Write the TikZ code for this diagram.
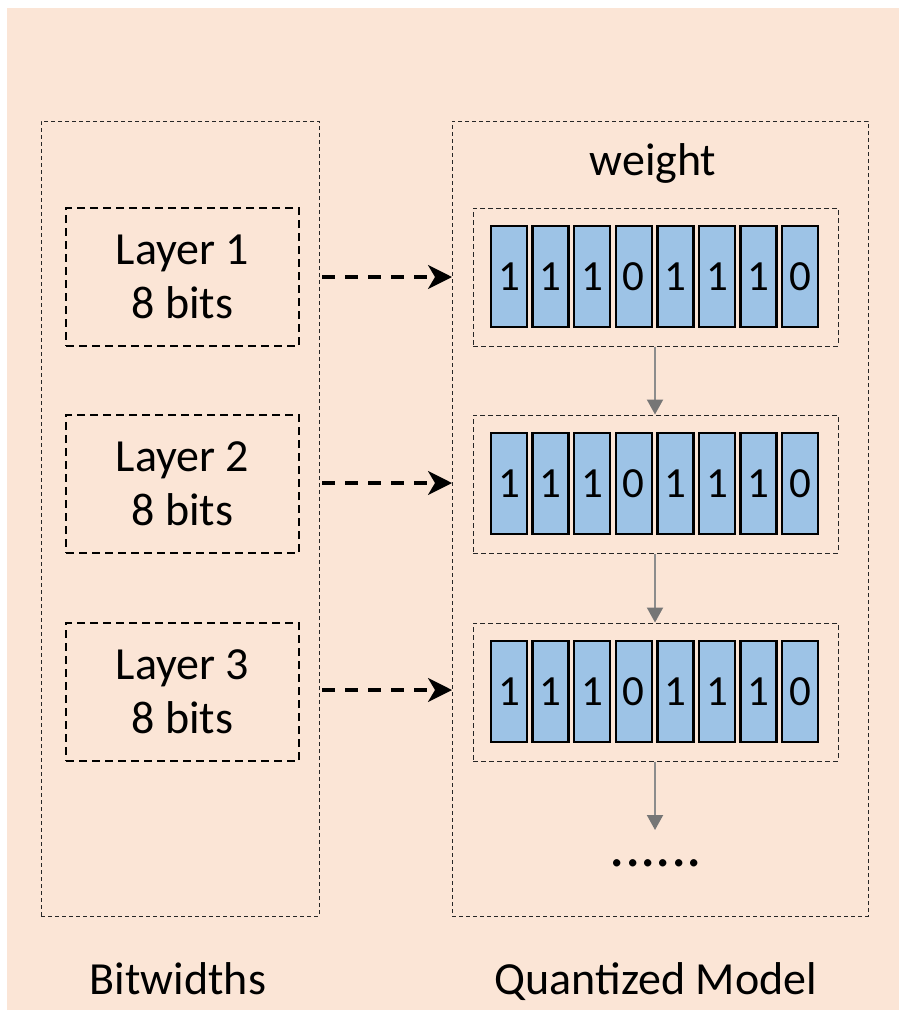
\documentclass[tikz,border=0pt]{standalone}
\usepackage{fontspec}
\setmainfont{Carlito}
\usetikzlibrary{arrows.meta}
\definecolor{bg}{HTML}{FBE5D6}
\definecolor{cellblue}{HTML}{9DC3E6}
\definecolor{garrow}{HTML}{8C8C8C}
\definecolor{ghead}{HTML}{767676}
\tikzset{
  outerbox/.style={draw=black!85, line width=1pt, dash pattern=on 4pt off 3pt, inner sep=0pt},
  layerbox/.style={draw=black, line width=2pt, dash pattern=on 8pt off 5pt, inner sep=0pt,
    minimum width=233pt, minimum height=138pt, align=center, font=\fontsize{46}{54}\selectfont},
  weightbox/.style={draw=black!85, line width=1pt, dash pattern=on 5pt off 3pt, inner sep=0pt,
    minimum width=365pt, minimum height=138pt},
  bitcell/.style={draw=black, fill=cellblue, line width=2.5pt, inner sep=0pt,
    minimum width=36pt, minimum height=101pt, font=\fontsize{43}{48}\selectfont},
  maplink/.style={line width=3.2pt, dash pattern=on 13pt off 10pt, -{Stealth[length=24pt,width=24pt,inset=7pt]}},
  flowlink/.style={draw=garrow, line width=2pt, -{Triangle[length=15pt,width=16pt,fill=ghead,color=ghead]}},
  caption/.style={font=\fontsize{46}{54}\selectfont, anchor=base, inner sep=0pt}
}
\begin{document}
\begin{tikzpicture}[x=1pt,y=-1pt]
\fill[bg] (7,8) rectangle (899,1010);
\useasboundingbox (0,0) rectangle (899,1015);
% outer boxes
\node[outerbox, minimum width=278pt, minimum height=795pt] (LB) at (180,518.5) {};
\node[outerbox, minimum width=416pt, minimum height=795pt] (RB) at (660,518.5) {};
% layer boxes
\node[layerbox] (L1) at (182.5,277) {Layer 1\\8 bits};
\node[layerbox] (L2) at (182.5,484) {Layer 2\\8 bits};
\node[layerbox] (L3) at (182.5,692) {Layer 3\\8 bits};
% weight boxes
\node[weightbox] (W1) at (655.5,277) {};
\node[weightbox] (W2) at (655.5,484) {};
\node[weightbox] (W3) at (655.5,692) {};
% bit cells
\foreach \w/\yy in {1/276.5, 2/483.5, 3/691.5}{
  \foreach \b [count=\i from 0] in {1,1,1,0,1,1,1,0}{
    \node[bitcell] (c\w\i) at (509+41.6*\i,\yy) {\b};
  }
}
% mapping arrows
\foreach \k/\yy in {1/277, 2/483, 3/690}{
  \coordinate (s\k) at (322,\yy);
  \coordinate (t\k) at (452,\yy);
  \draw[maplink] (s\k) -- (t\k);
}
% flow arrows
\coordinate (W1s) at (655,346);
\draw[flowlink] (W1.south -| W1s) -- (W2.north -| W1s);
\draw[flowlink] (W2.south -| W1s) -- (W3.north -| W1s);
\coordinate (W4) at (655,830);
\draw[flowlink] (W3.south -| W1s) -- (W4);
% texts
\node[caption] (wt) at (653,175) {weight};
\node[font=\fontsize{61}{61}\selectfont, anchor=base, inner sep=0pt] (dots) at (656,866) {......};
\node[caption] (bw) at (178,994) {Bitwidths};
\node[caption] (qm) at (656,994) {Quantized Model};
\end{tikzpicture}
\end{document}
